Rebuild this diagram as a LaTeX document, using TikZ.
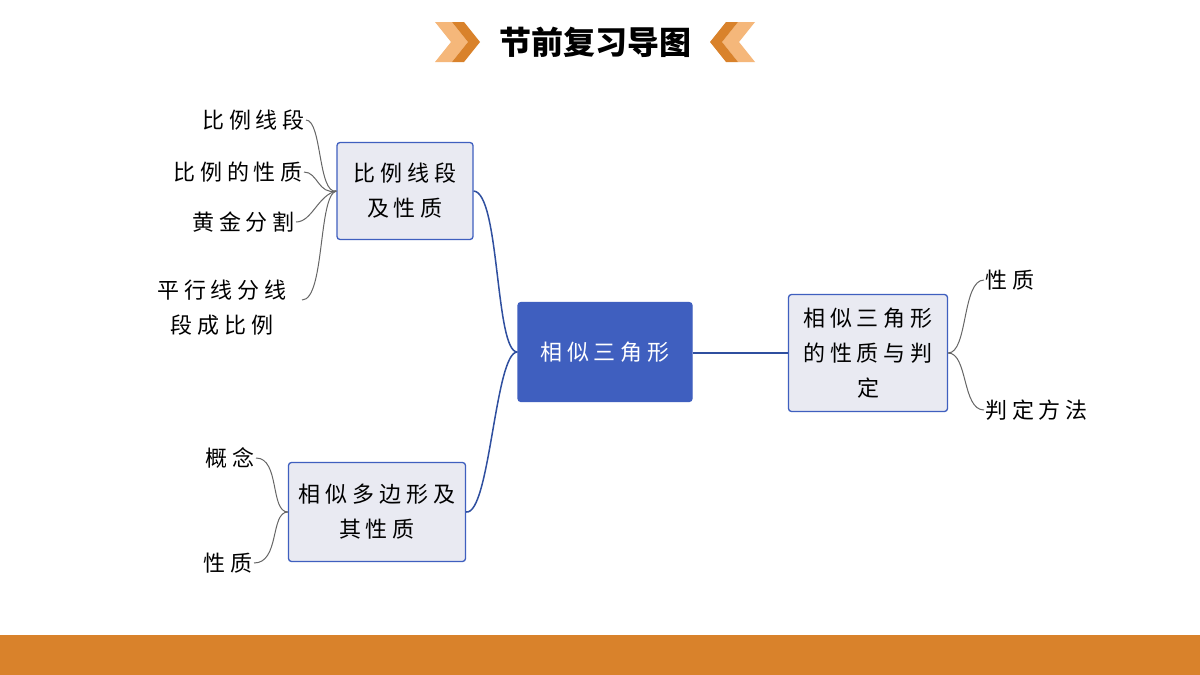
\documentclass[tikz,border=0pt]{standalone}
\usepackage{fontspec}
\newfontfamily\cjk[LetterSpace=22]{Noto Sans CJK SC}
\newfontfamily\cjktitle{Noto Sans CJK SC}
\usetikzlibrary{positioning}
\definecolor{bluebox}{HTML}{3F5FBF}
\definecolor{paleblue}{HTML}{E9EAF2}
\definecolor{edgeblue}{HTML}{2F4F9F}
\definecolor{orangebar}{HTML}{D9822B}
\definecolor{lightorange}{HTML}{F5B77A}
\tikzset{
  box/.style={draw=bluebox, line width=1.3pt, rounded corners=3pt, fill=paleblue, align=center, font=\cjk\fontsize{22}{35}\selectfont, inner sep=0pt},
  leaf/.style={font=\cjk\fontsize{22}{35}\selectfont, align=center, inner sep=1pt},
  branch/.style={edgeblue, line width=1.5pt},
  twig/.style={gray!80!black, line width=1pt}
}
\begin{document}
\begin{tikzpicture}[x=1pt,y=-1pt]
  \useasboundingbox (0,0) rectangle (1200,675);
  \fill[white] (0,0) rectangle (1200,675);
  \fill[orangebar] (0,635) rectangle (1200,675);
  % title
  \node[font=\cjktitle\bfseries\fontsize{32}{36}\selectfont] (title) at (595,42) {节前复习导图};
  \fill[lightorange] (435,22) -- (452,22) -- (468,42) -- (452,62) -- (435,62) -- (451,42) -- cycle;
  \fill[orangebar] (452,22) -- (464,22) -- (480,42) -- (464,62) -- (452,62) -- (468,42) -- cycle;
  \fill[lightorange] (755,22) -- (738,22) -- (722,42) -- (738,62) -- (755,62) -- (739,42) -- cycle;
  \fill[orangebar] (738,22) -- (726,22) -- (710,42) -- (726,62) -- (738,62) -- (722,42) -- cycle;
  % boxes
  \node[box, fill=bluebox, text=white, minimum width=174pt, minimum height=99pt] (main) at (605,352) {相似三角形};
  \node[box, minimum width=136pt, minimum height=97pt] (prop) at (405,191) {比例线段\\及性质};
  \node[box, minimum width=177pt, minimum height=99pt] (poly) at (377,512) {相似多边形及\\其性质};
  \node[box, minimum width=159pt, minimum height=117pt] (judge) at (868,353) {相似三角形\\的性质与判\\定};
  % leaves
  \node[leaf, anchor=east] (l1) at (306,120) {比例线段};
  \node[leaf, anchor=east] (l2) at (304,172) {比例的性质};
  \node[leaf, anchor=east] (l3) at (296,222) {黄金分割};
  \node[leaf] (l4) at (222,308) {平行线分线\\段成比例};
  \node[leaf, anchor=east] (p1) at (256,458) {概念};
  \node[leaf, anchor=east] (p2) at (254,563) {性质};
  \node[leaf, anchor=west] (r1) at (984,280) {性质};
  \node[leaf, anchor=west] (r2) at (984,410) {判定方法};
  % connectors
  \draw[branch] (main.west) .. controls (495,352) and (500,193) .. (prop.east);
  \draw[branch] (main.west) .. controls (495,352) and (490,515) .. (poly.east);
  \draw[branch] (main.east |- judge.west) -- (judge.west);
  \draw[twig] (prop.west) .. controls (318,195) and (322,120) .. (l1.east);
  \draw[twig] (prop.west) .. controls (318,195) and (318,172) .. (l2.east);
  \draw[twig] (prop.west) .. controls (318,195) and (312,222) .. (l3.east);
  \draw[twig] (prop.west) .. controls (318,195) and (325,300) .. (302,300);
  \draw[twig] (poly.west) .. controls (270,512) and (280,458) .. (p1.east);
  \draw[twig] (poly.west) .. controls (270,512) and (280,563) .. (p2.east);
  \draw[twig] (judge.east) .. controls (968,353) and (962,280) .. (r1.west);
  \draw[twig] (judge.east) .. controls (968,353) and (962,410) .. (r2.west);
\end{tikzpicture}
\end{document}
